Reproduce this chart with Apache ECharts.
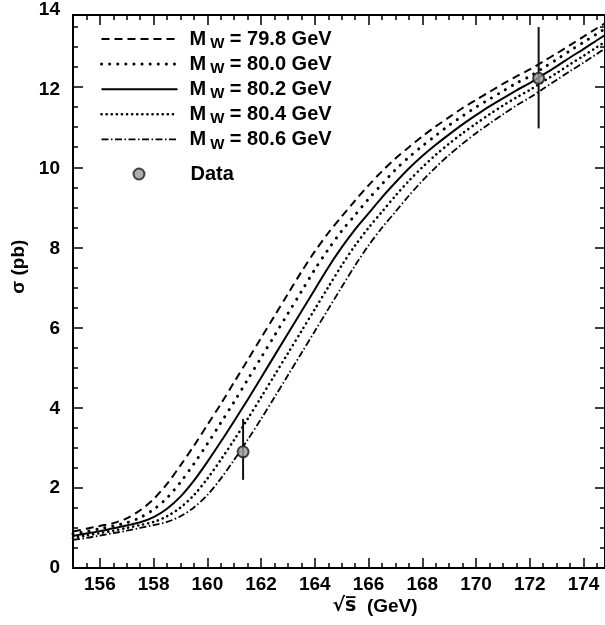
<!DOCTYPE html>
<html><head><meta charset="utf-8">
<script src="https://cdn.jsdelivr.net/npm/echarts@6/dist/echarts.min.js"></script>
<style>html,body{margin:0;padding:0;background:#fff}#c{width:605px;height:625px}</style>
</head><body><div id="c"></div>
<script>
// ---- data ----
const sGrid = [155,155.5,156,156.5,157,157.5,158,158.5,159,159.5,160,160.5,161,161.5,162,162.5,163,163.5,164,164.5,165,165.5,166,166.5,167,167.5,168,168.5,169,169.5,170,170.5,171,171.5,172,172.5,173,173.5,174,174.5,174.8];
const mw798 = [0.91,0.98,1.05,1.12,1.24,1.44,1.72,2.10,2.56,3.05,3.57,4.09,4.64,5.19,5.74,6.29,6.84,7.39,7.90,8.36,8.77,9.17,9.55,9.90,10.22,10.50,10.77,11.02,11.25,11.48,11.68,11.88,12.08,12.27,12.44,12.64,12.84,13.05,13.26,13.47,13.59];
const mw800 = [0.85,0.91,0.98,1.05,1.13,1.26,1.46,1.75,2.14,2.60,3.10,3.62,4.15,4.70,5.25,5.80,6.35,6.90,7.45,7.95,8.41,8.81,9.21,9.58,9.94,10.25,10.53,10.79,11.05,11.28,11.50,11.70,11.90,12.10,12.27,12.48,12.69,12.91,13.12,13.33,13.46];
const mw802 = [0.80,0.86,0.92,0.99,1.06,1.14,1.27,1.48,1.78,2.18,2.65,3.15,3.67,4.20,4.75,5.30,5.85,6.40,6.95,7.50,8.00,8.45,8.85,9.25,9.62,9.97,10.28,10.56,10.82,11.07,11.30,11.52,11.72,11.92,12.10,12.31,12.52,12.74,12.95,13.17,13.30];
const mw804 = [0.75,0.81,0.87,0.93,1.00,1.07,1.15,1.29,1.51,1.82,2.23,2.70,3.20,3.72,4.26,4.81,5.36,5.91,6.46,7.01,7.55,8.05,8.49,8.89,9.29,9.66,10.00,10.31,10.59,10.85,11.09,11.32,11.54,11.74,11.93,12.14,12.35,12.57,12.78,13.00,13.13];
const mw806 = [0.70,0.75,0.81,0.87,0.93,1.00,1.07,1.15,1.29,1.51,1.82,2.23,2.70,3.20,3.72,4.26,4.81,5.36,5.91,6.46,7.01,7.55,8.05,8.49,8.89,9.29,9.66,10.00,10.31,10.59,10.85,11.09,11.32,11.54,11.74,11.96,12.18,12.40,12.61,12.83,12.96];
const massLabels = ['79.8','80.0','80.2','80.4','80.6'];
const dataS = [161.33, 172.33];
const dataSigma = [2.90, 12.22];
const dataErrUp = [0.82, 1.28];
const dataErrDown = [0.70, 1.25];
const xMajorTicks = [156,158,160,162,164,166,168,170,172,174];

// ---- chart ----
const FONT = 'Liberation Sans, Arial, Helvetica, sans-serif';
const curves = [mw798, mw800, mw802, mw804, mw806];
const lineStyles = [
  {type:[8,5], width:2, cap:'butt'},
  {type:[0.1,8], width:3, cap:'round'},
  {type:'solid', width:2},
  {type:[0.1,5], width:2.6, cap:'round'},
  {type:[7,2.5,1.5,2.5], width:1.8, cap:'butt'}
];
const names = massLabels.map(m => 'MW' + m);
const series = curves.map((arr, i) => ({
  name: names[i], type:'line', xAxisIndex:0, yAxisIndex:0,
  data: sGrid.map((s, j) => [s, arr[j]]),
  showSymbol:false, symbol:'none', smooth:0.3, silent:true,
  lineStyle: Object.assign({color:'#000'}, lineStyles[i]),
  itemStyle:{color:'#000'}, z:2
}));
series.push({
  name:'errbars', type:'custom', xAxisIndex:0, yAxisIndex:0, z:3, silent:true,
  data: dataS.map((s,i)=>[s, dataSigma[i]-dataErrDown[i], dataSigma[i]+dataErrUp[i]]),
  renderItem: (params, api) => {
    const p1 = api.coord([api.value(0), api.value(1)]);
    const p2 = api.coord([api.value(0), api.value(2)]);
    return {type:'line', shape:{x1:p1[0],y1:p1[1],x2:p2[0],y2:p2[1]}, style:{stroke:'#111', lineWidth:2}};
  }
});
series.push({
  name:'Data', type:'scatter', xAxisIndex:0, yAxisIndex:0, z:4, silent:true,
  data: dataS.map((s,i)=>[s, dataSigma[i]]),
  symbol:'circle', symbolSize:11,
  itemStyle:{color:'#9a9a9a', borderColor:'#1a1a1a', borderWidth:2}
});

const tickLine = {color:'#000', width:1.5};
const base = {type:'value', min:155, max:174.8, gridIndex:0, splitLine:{show:false}};
const ybase = {type:'value', min:0, max:13.8, gridIndex:0, splitLine:{show:false}};
const option = {
  animation:false,
  backgroundColor:'#fff',
  textStyle:{fontFamily:FONT},
  grid:[
    {left:73, right:-1, top:15, bottom:57, containLabel:false},
    {left:73, right:-1, top:7, bottom:57, containLabel:false}
  ],
  legend:[
    {
      data:names.map((n,i)=>({name:n, lineStyle:Object.assign({color:'#000'}, lineStyles[i])})),
      orient:'vertical', left:95, top:24, itemWidth:76, itemHeight:14, itemGap:2.6,
      selectedMode:false, itemStyle:{opacity:0},
      formatter: n => '{m|M}{w|W}{m| = ' + n.slice(2) + ' GeV}',
      textStyle:{color:'#000', padding:[0,0,0,7], rich:{
        m:{fontSize:20, fontWeight:'bold', fontFamily:FONT, color:'#000', lineHeight:22},
        w:{fontSize:15, fontWeight:'bold', fontFamily:FONT, color:'#000', padding:[10,0,0,4]}
      }}
    },
    {
      data:['Data'], orient:'vertical', left:127.5, top:159, itemWidth:11, itemHeight:11, itemGap:0,
      selectedMode:false,
      textStyle:{color:'#000', fontSize:20, fontWeight:'bold', fontFamily:FONT, padding:[0,0,0,41]}
    }
  ],
  xAxis:[
    Object.assign({}, base, {position:'bottom', interval:0.5,
      axisLine:{show:true, onZero:false, lineStyle:{color:'#000', width:2}},
      axisTick:{show:true, inside:true, length:5, lineStyle:tickLine},
      axisLabel:{show:false},
      name:'{r|√}{s|s\u0305}{t|  (GeV)}', nameLocation:'middle', nameGap:29,
      nameTextStyle:{color:'#000', fontSize:19, fontWeight:'bold', fontFamily:FONT, padding:[0,0,0,72],
        rich:{
          r:{fontSize:19, fontFamily:'DejaVu Sans', color:'#000'},
          s:{fontSize:19, fontWeight:'bold', fontFamily:'DejaVu Sans', color:'#000'},
          t:{fontSize:19, fontWeight:'bold', fontFamily:FONT, color:'#000'}
        }}
    }),
    Object.assign({}, base, {position:'bottom',
      axisLine:{show:false, onZero:false},
      axisTick:{show:true, inside:true, length:10, lineStyle:tickLine, customValues:xMajorTicks},
      axisLabel:{show:true, customValues:xMajorTicks, margin:7, color:'#000', fontSize:19, fontWeight:'bold', fontFamily:FONT}
    }),
    Object.assign({}, base, {position:'top', interval:0.5,
      axisLine:{show:true, onZero:false, lineStyle:{color:'#000', width:2}},
      axisTick:{show:true, inside:true, length:5, lineStyle:tickLine},
      axisLabel:{show:false}
    }),
    Object.assign({}, base, {position:'top',
      axisLine:{show:false, onZero:false},
      axisTick:{show:true, inside:true, length:10, lineStyle:tickLine, customValues:xMajorTicks},
      axisLabel:{show:false}
    }),
    {type:'value', gridIndex:1, min:155, max:174.8, show:false}
  ],
  yAxis:[
    Object.assign({}, ybase, {position:'left', interval:0.5,
      axisLine:{show:true, onZero:false, lineStyle:{color:'#000', width:2}},
      axisTick:{show:true, inside:true, length:5, lineStyle:tickLine},
      axisLabel:{show:false}
    }),
    Object.assign({}, ybase, {position:'left', interval:2,
      axisLine:{show:false, onZero:false},
      axisTick:{show:true, inside:true, length:10, lineStyle:tickLine},
      axisLabel:{show:false}
    }),
    Object.assign({}, ybase, {position:'right', interval:0.5,
      axisLine:{show:true, onZero:false, lineStyle:{color:'#000', width:2}},
      axisTick:{show:true, inside:true, length:5, lineStyle:tickLine},
      axisLabel:{show:false}
    }),
    Object.assign({}, ybase, {position:'right', interval:2,
      axisLine:{show:false, onZero:false},
      axisTick:{show:true, inside:true, length:10, lineStyle:tickLine},
      axisLabel:{show:false}
    }),
    {type:'value', gridIndex:1, min:0, max:14, interval:2, position:'left',
      splitLine:{show:false}, axisLine:{show:false}, axisTick:{show:false},
      axisLabel:{show:true, margin:13, color:'#000', fontSize:19, fontWeight:'bold', fontFamily:FONT},
      name:'σ (pb)', nameLocation:'middle', nameGap:40, nameRotate:90,
      nameTextStyle:{color:'#000', fontSize:19, fontWeight:'bold', fontFamily:FONT, padding:[0,0,0,44]}
    }
  ],
  series: series
};
const chart = echarts.init(document.getElementById('c'), null, {renderer:'canvas'});
chart.setOption(option);
</script></body></html>
